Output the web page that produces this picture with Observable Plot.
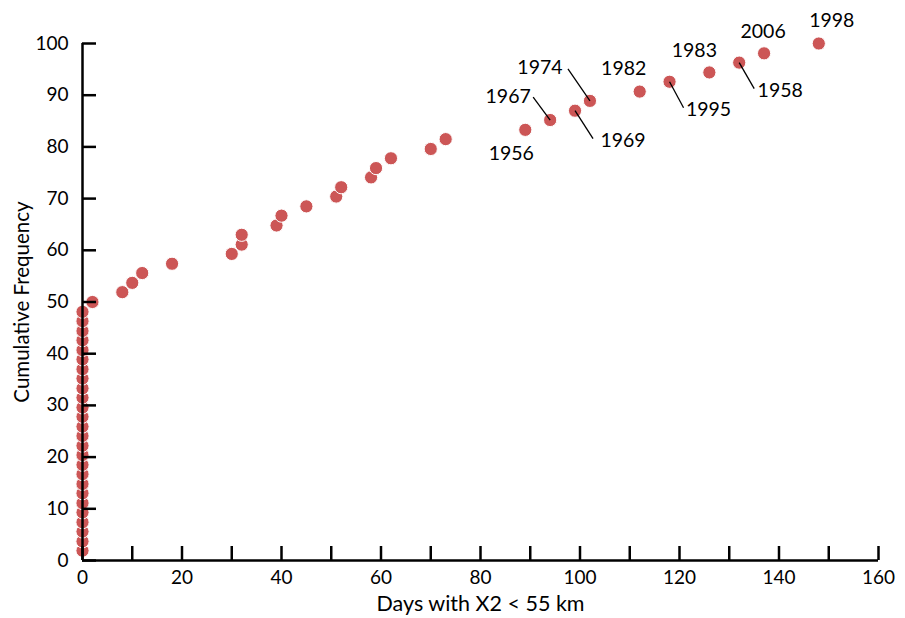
<!DOCTYPE html>
<html><head><meta charset="utf-8">
<script src="https://cdn.jsdelivr.net/npm/d3@7"></script>
<script src="https://cdn.jsdelivr.net/npm/@observablehq/plot@0.6"></script>
<style>html,body{margin:0;padding:0;background:#fff}</style>
</head><body><div id="chart"></div>
<script>
// ---- data ----
const days = [0,0,0,0,0,0,0,0,0,0,0,0,0,0,0,0,0,0,0,0,0,0,0,0,0,0,
  2, 8, 10, 12, 18, 30, 32, 32, 39, 40, 45, 51, 52, 58, 59, 62, 70, 73,
  89, 94, 99, 102, 112, 118, 126, 132, 137, 148];
const cumFreq = [1.9,3.7,5.6,7.4,9.3,11.1,13.0,14.8,16.7,18.5,20.4,22.2,24.1,25.9,27.8,29.6,31.5,33.3,35.2,37.0,38.9,40.7,42.6,44.4,46.3,48.1,
  50.0,51.9,53.7,55.6,57.4,59.3,61.1,63.0,64.8,66.7,68.5,70.4,72.2,74.1,75.9,77.8,79.6,81.5,
  83.3,85.2,87.0,88.9,90.7,92.6,94.4,96.3,98.1,100.0];
const labelYears = ["1956","1967","1969","1974","1982","1995","1983","1958","2006","1998"];
const labelDays  = [89, 94, 99, 102, 112, 118, 126, 132, 137, 148];
const xTicks = [0,10,20,30,40,50,60,70,80,90,100,110,120,130,140,150,160];
const xTickLabels = [0,20,40,60,80,100,120,140,160];
const yTicks = [0,10,20,30,40,50,60,70,80,90,100];
const xTitle = "Days with X2 < 55 km";
const yTitle = "Cumulative Frequency";

// ---- annotation layout (pixel offsets from each labelled point) ----
const labelLayout = [
  {dx:-14, dy:24},
  {dx:-42, dy:-23, lx:-17, ly:-23},
  {dx:48, dy:30, lx:18, ly:28},
  {dx:-50, dy:-33, lx:-22, ly:-32},
  {dx:-16, dy:-23},
  {dx:39, dy:28, lx:14, ly:26},
  {dx:-15, dy:-22},
  {dx:41, dy:28, lx:15, ly:26},
  {dx:-1, dy:-22},
  {dx:13, dy:-23}
];

const W = 905, H = 618, mL = 82, mR = 27, mT = 43, mB = 58;
const innerW = W - mL - mR, innerH = H - mT - mB;
const xDom = [0, 160], yDom = [0, 100];
const pxX = innerW / (xDom[1] - xDom[0]), pxY = innerH / (yDom[1] - yDom[0]);

const points = days.map((d, i) => ({x: d, y: cumFreq[i]}));
const labels = labelYears.map((yr, i) => {
  const p = points.find(q => q.x === labelDays[i]);
  return {year: yr, x: p.x, y: p.y, ...labelLayout[i]};
});
const leaders = labels.filter(l => l.lx !== undefined).map(l => ({
  x1: l.x, y1: l.y, x2: l.x + l.lx / pxX, y2: l.y - l.ly / pxY
}));

const red = "#cc5656";
const tickLen = 14;

const marks = [
  Plot.dot(points, {x: "x", y: "y", r: 6.6, fill: red, stroke: "white", strokeWidth: 1}),
  Plot.link(leaders, {x1: "x1", y1: "y1", x2: "x2", y2: "y2", stroke: "black", strokeWidth: 1.3}),
  ...labels.map(l => Plot.text([l], {x: "x", y: "y", text: "year", dx: l.dx, dy: l.dy, fill: "black", fontSize: 19.5})),
  Plot.tickX(xTicks, {x: d => d, insetTop: innerH - tickLen, stroke: "black", strokeWidth: 2.5}),
  Plot.tickY(yTicks, {y: d => d, insetRight: innerW - tickLen, stroke: "black", strokeWidth: 2.5}),
  Plot.ruleX([0], {y1: 0, y2: 100, stroke: "black", strokeWidth: 2.5}),
  Plot.ruleY([0], {x1: 0, x2: 160, stroke: "black", strokeWidth: 2.5}),
  Plot.axisX({ticks: xTickLabels, tickSize: 0, tickPadding: 10, label: null}),
  Plot.axisY({ticks: yTicks, tickSize: 0, tickPadding: 14, label: null}),
  Plot.text([xTitle], {frameAnchor: "bottom", dy: 44, lineAnchor: "middle", textAnchor: "middle", fill: "black", fontSize: 21.5}),
  Plot.text([yTitle], {frameAnchor: "left", dx: -60, rotate: -90, textAnchor: "middle", lineAnchor: "middle", fill: "black", fontSize: 20.5})
];

const chart = Plot.plot({
  width: W, height: H,
  marginLeft: mL, marginRight: mR, marginTop: mT, marginBottom: mB,
  x: {domain: xDom},
  y: {domain: yDom},
  style: {fontFamily: "Lato, sans-serif", fontSize: "19px", color: "black", background: "white", overflow: "visible"},
  marks
});
document.getElementById("chart").appendChild(chart);
</script>
</body></html>
